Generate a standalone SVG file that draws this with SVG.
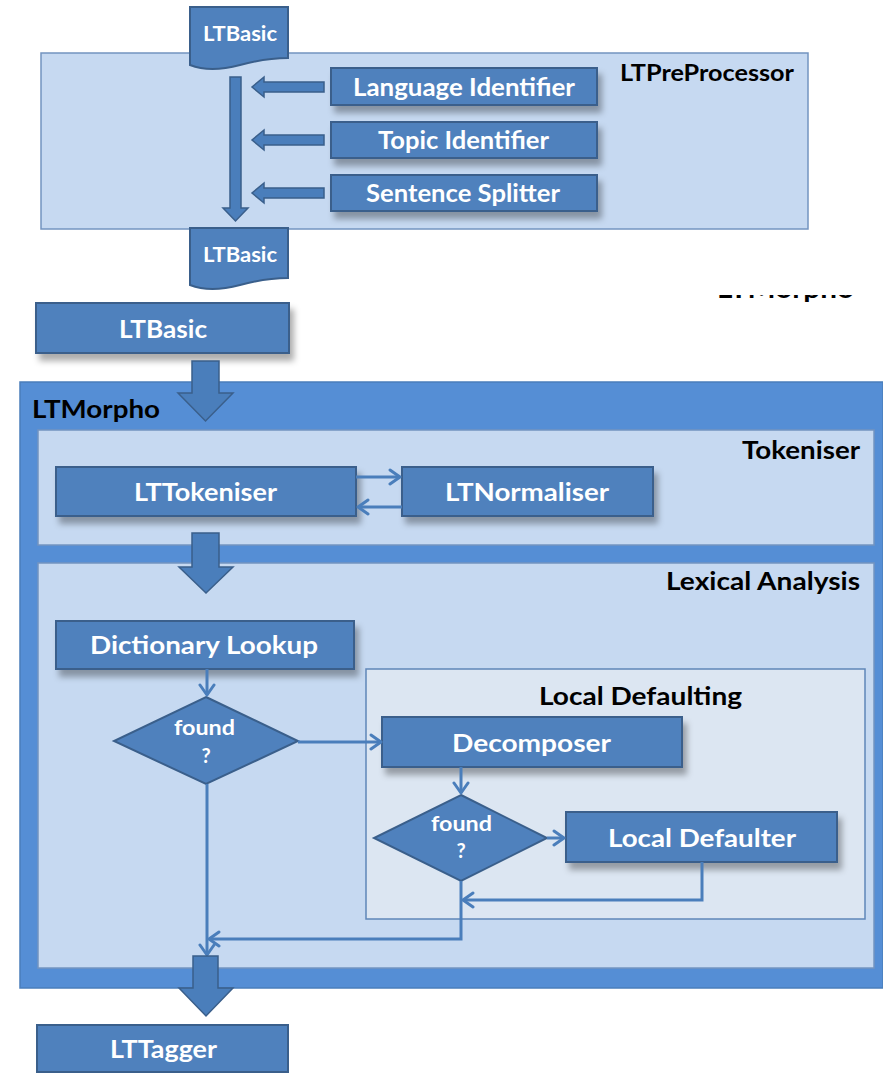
<svg xmlns="http://www.w3.org/2000/svg" width="883" height="1073" viewBox="0 0 883 1073">
<defs>
<filter id="sh" x="-10%" y="-30%" width="130%" height="180%">
<feDropShadow dx="4" dy="7" stdDeviation="3" flood-color="#000" flood-opacity="0.32"/>
</filter>
<marker id="ah" markerUnits="userSpaceOnUse" markerWidth="16" markerHeight="18" refX="12" refY="9" orient="auto">
<path d="M2,2 L12,9 L2,16" fill="none" stroke="#4A7EBB" stroke-width="3" stroke-linecap="round" stroke-linejoin="round"/>
</marker>
<clipPath id="frag"><rect x="700" y="295" width="183" height="16"/></clipPath>
</defs>
<style>
.node{fill:#4F81BD;stroke:#3A5F8B;stroke-width:2}
.barrow{fill:#4A7EBB;stroke:#3A5F8B;stroke-width:1.5}
.cont{fill:#C6D9F1;stroke:#7394C0;stroke-width:1.5}
.inner{fill:#DCE6F2;stroke:#5F86B8;stroke-width:1.5}
.outer{fill:#558ED5;stroke:#4A7EBB;stroke-width:1.5}
.lbl{font-family:Lato,"Liberation Sans",sans-serif;font-weight:bold;fill:#fff;font-size:24px}
.hdr{font-family:Lato,"Liberation Sans",sans-serif;font-weight:bold;fill:#000;font-size:24px}
.sm{font-size:20px}
.conn{fill:none;stroke:#4A7EBB;stroke-width:3}
</style>

<!-- partial clipped label -->
<text class="hdr" x="717" y="297.5" textLength="137" lengthAdjust="spacingAndGlyphs" clip-path="url(#frag)" style="font-size:26px">LTMorpho</text>

<g id="LTPreProcessor">
<rect class="cont" x="41" y="53" width="767" height="176"/>
<text class="hdr" x="620" y="81" textLength="174" lengthAdjust="spacingAndGlyphs" style="font-size:22px">LTPreProcessor</text>
</g>

<g id="pre_flow">
<path class="barrow" d="M230,77 H241 V208 H248 L235.5,221 L223,208 H230 Z"/>
<path class="barrow" d="M324,82 V92 H264 V97 L252,87 L264,77 V82 Z"/>
<path class="barrow" d="M324,135 V145 H264 V150 L252,140 L264,130 V135 Z"/>
<path class="barrow" d="M324,188 V198 H264 V203 L252,193 L264,183 V188 Z"/>
</g>

<g id="LTBasic_in">
<path class="node" d="M190,7 H288 V58 C270,58 255,61 240,65 C225,69 205,71 190,65 Z"/>
<text class="lbl" x="203" y="41" textLength="74" lengthAdjust="spacingAndGlyphs" style="font-size:21px">LTBasic</text>
</g>
<g id="LTBasic_out">
<path class="node" d="M190,228 H288 V278 C270,278 255,281 240,285 C225,289 205,291 190,285 Z"/>
<text class="lbl" x="203" y="262" textLength="74" lengthAdjust="spacingAndGlyphs" style="font-size:21px">LTBasic</text>
</g>

<g id="LanguageIdentifier">
<rect class="node" x="331" y="68" width="266" height="37" filter="url(#sh)"/>
<text class="lbl" x="353" y="96" textLength="222" lengthAdjust="spacingAndGlyphs">Language Identifier</text>
</g>
<g id="TopicIdentifier">
<rect class="node" x="331" y="122" width="266" height="36" filter="url(#sh)"/>
<text class="lbl" x="378" y="149" textLength="171" lengthAdjust="spacingAndGlyphs">Topic Identifier</text>
</g>
<g id="SentenceSplitter">
<rect class="node" x="331" y="175" width="266" height="36" filter="url(#sh)"/>
<text class="lbl" x="366" y="202" textLength="194" lengthAdjust="spacingAndGlyphs">Sentence Splitter</text>
</g>

<g id="LTBasic">
<rect class="node" x="36" y="303" width="253" height="50" filter="url(#sh)"/>
<text class="lbl" x="119" y="338" textLength="88" lengthAdjust="spacingAndGlyphs">LTBasic</text>
</g>

<g id="LTMorpho">
<rect class="outer" x="20" y="382" width="863" height="606"/>
<text class="hdr" x="32" y="418" textLength="128" lengthAdjust="spacingAndGlyphs" style="font-size:25px">LTMorpho</text>
</g>

<g id="Tokeniser">
<rect class="cont" x="38" y="430" width="836" height="115"/>
<text class="hdr" x="742" y="459" textLength="118" lengthAdjust="spacingAndGlyphs">Tokeniser</text>
</g>

<g id="LexicalAnalysis">
<rect class="cont" x="38" y="563" width="836" height="405"/>
<text class="hdr" x="666" y="590" textLength="194" lengthAdjust="spacingAndGlyphs">Lexical Analysis</text>
</g>

<g id="LocalDefaulting">
<rect class="inner" x="366" y="669" width="499" height="250"/>
<text class="hdr" x="539" y="705" textLength="203" lengthAdjust="spacingAndGlyphs">Local Defaulting</text>
</g>

<g id="LTTokeniser">
<rect class="node" x="56" y="467" width="300" height="49" filter="url(#sh)"/>
<text class="lbl" x="134" y="501" textLength="143" lengthAdjust="spacingAndGlyphs">LTTokeniser</text>
</g>
<g id="LTNormaliser">
<rect class="node" x="402" y="467" width="251" height="49" filter="url(#sh)"/>
<text class="lbl" x="445" y="501" textLength="164" lengthAdjust="spacingAndGlyphs">LTNormaliser</text>
</g>

<g id="DictionaryLookup">
<rect class="node" x="56" y="621" width="298" height="48" filter="url(#sh)"/>
<text class="lbl" x="90" y="654" textLength="228" lengthAdjust="spacingAndGlyphs">Dictionary Lookup</text>
</g>

<g id="found1">
<path class="node" d="M206,697 L298,741 L206,784 L114,741 Z"/>
<text class="lbl sm" x="174" y="735" textLength="61" lengthAdjust="spacingAndGlyphs">found</text>
<text class="lbl sm" x="206" y="763" text-anchor="middle">?</text>
</g>

<g id="Decomposer">
<rect class="node" x="382" y="717" width="300" height="50" filter="url(#sh)"/>
<text class="lbl" x="452" y="752" textLength="159" lengthAdjust="spacingAndGlyphs">Decomposer</text>
</g>

<g id="found2">
<path class="node" d="M461,795 L547,838 L461,881 L374,838 Z"/>
<text class="lbl sm" x="431" y="831" textLength="61" lengthAdjust="spacingAndGlyphs">found</text>
<text class="lbl sm" x="461" y="858" text-anchor="middle">?</text>
</g>

<g id="LocalDefaulter">
<rect class="node" x="566" y="812" width="271" height="50" filter="url(#sh)"/>
<text class="lbl" x="608" y="847" textLength="188" lengthAdjust="spacingAndGlyphs">Local Defaulter</text>
</g>

<g id="LTTagger">
<rect class="node" x="37" y="1025" width="251" height="47"/>
<text class="lbl" x="110" y="1058" textLength="107" lengthAdjust="spacingAndGlyphs">LTTagger</text>
</g>

<g id="connectors">
<path class="barrow" d="M192,361 H219 V393 H233 L205.5,421 L178,393 H192 Z"/>
<path class="barrow" d="M192,533 H219 V567 H233 L206,593 L179,567 H192 Z"/>
<path class="conn" d="M356,477 H400" marker-end="url(#ah)"/>
<path class="conn" d="M402,507 H358" marker-end="url(#ah)"/>
<path class="conn" d="M207,669 V695" marker-end="url(#ah)"/>
<path class="conn" d="M298,742 H381" marker-end="url(#ah)"/>
<path class="conn" d="M461,767 V793" marker-end="url(#ah)"/>
<path class="conn" d="M547,838 H564" marker-end="url(#ah)"/>
<path class="conn" d="M702,862 V900 H463" marker-end="url(#ah)"/>
<path class="conn" d="M461,881 V939 H209" marker-end="url(#ah)"/>
<path class="conn" d="M207,784 V955" marker-end="url(#ah)"/>
<path class="barrow" d="M193,956 H218 V988 H233 L206,1016 L179,988 H193 Z"/>
</g>
</svg>
